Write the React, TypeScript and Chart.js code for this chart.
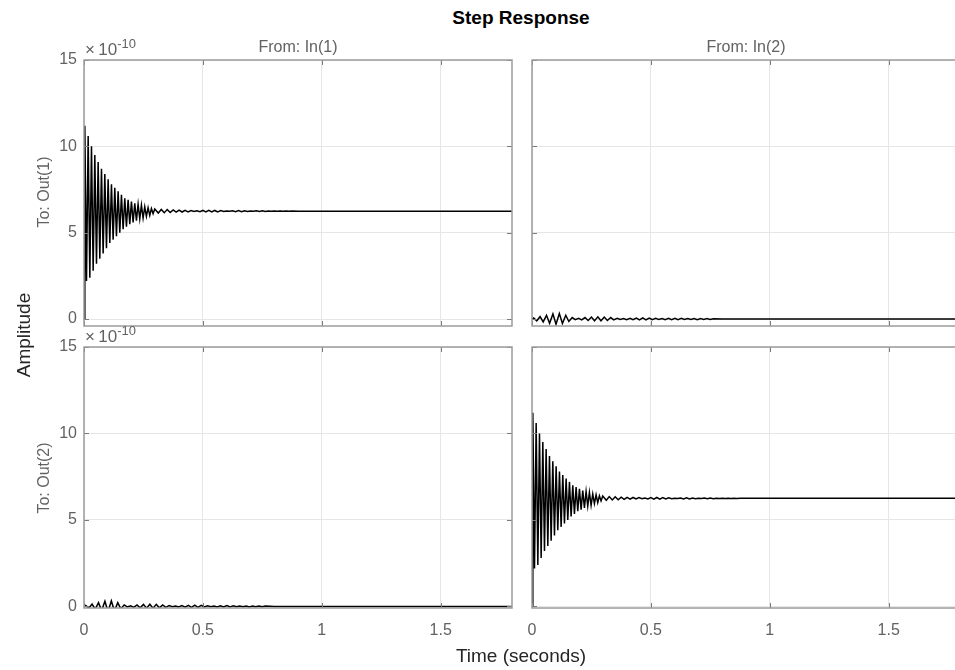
import React, { useEffect, useRef } from "react";
import { Chart, registerables } from "chart.js";
Chart.register(...registerables);

// ---- data (amplitude in units of 1e-10) ----
const diagT = [
  0, 0.0035, 0.0105, 0.0175, 0.0245, 0.0315, 0.0385, 0.0455, 0.0525, 0.0595, 0.0665,
  0.0735, 0.0805, 0.0875, 0.0945, 0.1015, 0.1085, 0.1155, 0.1225, 0.1295, 0.1365, 0.1435,
  0.1505, 0.1575, 0.1645, 0.1715, 0.1785, 0.1855, 0.1925, 0.1995, 0.2065, 0.2135, 0.2205,
  0.2275, 0.2345, 0.2415, 0.2485, 0.2555, 0.2625, 0.2695, 0.2765, 0.2835, 0.2905, 0.2975,
  0.3125, 0.325, 0.3375, 0.35, 0.3625, 0.375, 0.3875, 0.4, 0.4125, 0.425, 0.4375, 0.45,
  0.4625, 0.475, 0.4875, 0.5, 0.5125, 0.525, 0.5375, 0.55, 0.5625, 0.575, 0.5875, 0.6,
  0.6125, 0.625, 0.6375, 0.65, 0.6625, 0.675, 0.6875, 0.7, 0.7125, 0.725, 0.7375, 0.75,
  0.7625, 0.775, 0.7875, 0.8, 0.8125, 0.825, 0.8375, 0.85, 0.8625, 0.875, 0.9, 1.8,
];
const diagY = [
  0, 11.2, 2.2, 10.6, 2.4, 10.0, 2.8, 9.5, 3.2, 9.1, 3.5,
  8.7, 3.8, 8.4, 4.1, 8.1, 4.4, 7.8, 4.6, 7.6, 4.8, 7.4,
  5.0, 7.2, 5.2, 7.0, 5.35, 6.9, 5.5, 6.8, 5.6, 6.7, 5.7,
  6.65, 5.8, 6.6, 5.85, 6.5, 5.95, 6.45, 6.0, 6.4, 6.1, 6.38,
  6.14, 6.35, 6.16, 6.34, 6.17, 6.32, 6.19, 6.31, 6.2, 6.3, 6.21, 6.29,
  6.23, 6.27, 6.22, 6.29, 6.2, 6.3, 6.2, 6.29, 6.21, 6.28, 6.23, 6.26,
  6.24, 6.27, 6.22, 6.28, 6.22, 6.27, 6.23, 6.26, 6.24, 6.27, 6.23, 6.27,
  6.23, 6.26, 6.24, 6.26, 6.24, 6.26, 6.24, 6.26, 6.24, 6.26, 6.25, 6.25,
];
const crossT = [
  0, 0.007, 0.02, 0.034, 0.047, 0.061, 0.074, 0.088, 0.101, 0.115, 0.128, 0.142, 0.155,
  0.169, 0.182, 0.196, 0.209, 0.223, 0.236, 0.25, 0.263, 0.277, 0.29, 0.304, 0.317, 0.331,
  0.344, 0.358, 0.371, 0.385, 0.398, 0.412, 0.425, 0.439, 0.452, 0.466, 0.479, 0.493, 0.506,
  0.52, 0.533, 0.547, 0.56, 0.574, 0.587, 0.601, 0.614, 0.628, 0.641, 0.655, 0.668, 0.682,
  0.695, 0.709, 0.722, 0.736, 0.749, 0.763, 0.8, 1.8,
];
const crossY = [
  0, 0.06, -0.1, 0.14, -0.16, 0.22, -0.24, 0.3, -0.3, 0.32, -0.26, 0.22, -0.14,
  0.09, -0.03, 0.04, -0.05, 0.09, -0.08, 0.12, -0.1, 0.13, -0.1, 0.12, -0.08, 0.09,
  -0.05, 0.05, -0.02, 0.03, -0.03, 0.05, -0.04, 0.06, -0.05, 0.07, -0.05, 0.06, -0.03,
  0.04, -0.02, 0.03, -0.03, 0.04, -0.03, 0.05, -0.03, 0.04, -0.02, 0.03, -0.02, 0.03,
  -0.03, 0.03, -0.02, 0.03, -0.02, 0.02, 0, 0,
];
const xTicks = [0, 0.5, 1, 1.5];
const yTicks = [0, 5, 10, 15];
const xMax = 1.8;
const yMax = 15;

const FONT = "'Liberation Sans', Arial, Helvetica, sans-serif";
const TICK_COLOR = "#626262";

const boxPlugin = {
  id: "matlabBox",
  afterDraw(chart: any) {
    const { ctx, chartArea: a, scales } = chart;
    ctx.save();
    ctx.strokeStyle = "#7a7a7a";
    ctx.lineWidth = 1;
    ctx.beginPath();
    scales.x.ticks.forEach((tk: any) => {
      const px = Math.round(scales.x.getPixelForValue(tk.value)) + 0.5;
      ctx.moveTo(px, a.bottom);
      ctx.lineTo(px, a.bottom - 5);
      ctx.moveTo(px, a.top);
      ctx.lineTo(px, a.top + 5);
    });
    scales.y.ticks.forEach((tk: any) => {
      const py = Math.round(scales.y.getPixelForValue(tk.value)) + 0.5;
      ctx.moveTo(a.left, py);
      ctx.lineTo(a.left + 5, py);
      ctx.moveTo(a.right, py);
      ctx.lineTo(a.right - 5, py);
    });
    ctx.stroke();
    ctx.strokeStyle = "#9c9c9c";
    ctx.lineWidth = 1.5;
    ctx.strokeRect(a.left, a.top, a.right - a.left, a.bottom - a.top);
    ctx.restore();
  },
};

const zeroPad = (s: any) => {
  s.paddingTop = 0;
  s.paddingBottom = 0;
  s.paddingLeft = 0;
  s.paddingRight = 0;
};

type PanelProps = {
  left: number;
  top: number;
  width: number;
  height: number;
  t: number[];
  y: number[];
  yMin: number;
  yAxisW: number;
  xAxisH: number;
  showX: boolean;
  showY: boolean;
};

function Panel(p: PanelProps) {
  const ref = useRef<HTMLCanvasElement | null>(null);
  useEffect(() => {
    if (!ref.current) return;
    const chart = new Chart(ref.current, {
      type: "line",
      data: {
        datasets: [
          {
            data: p.t.map((x, i) => ({ x, y: p.y[i] })),
            borderColor: "#000000",
            borderWidth: 1.5,
            pointRadius: 0,
            tension: 0,
            fill: false,
          },
        ],
      },
      options: {
        animation: false,
        responsive: false,
        maintainAspectRatio: false,
        layout: { padding: { top: 10, right: 4, left: 0, bottom: 0 } },
        plugins: {
          legend: { display: false },
          tooltip: { enabled: false },
          title: { display: false },
        },
        scales: {
          x: {
            type: "linear",
            min: 0,
            max: xMax,
            afterBuildTicks: (s: any) => {
              s.ticks = xTicks.map((v) => ({ value: v }));
            },
            afterFit: (s: any) => {
              s.height = p.xAxisH;
              zeroPad(s);
            },
            grid: { color: "#e6e6e6", lineWidth: 1, drawTicks: false },
            border: { display: false },
            ticks: {
              display: p.showX,
              autoSkip: false,
              maxRotation: 0,
              padding: 13,
              color: TICK_COLOR,
              font: { family: FONT, size: 16 },
              callback: (v: any) => String(v),
            },
          },
          y: {
            type: "linear",
            min: p.yMin,
            max: yMax,
            afterBuildTicks: (s: any) => {
              s.ticks = yTicks.map((v) => ({ value: v }));
            },
            afterFit: (s: any) => {
              s.width = p.yAxisW;
              zeroPad(s);
            },
            grid: { color: "#e6e6e6", lineWidth: 1, drawTicks: false },
            border: { display: false },
            ticks: {
              display: p.showY,
              padding: 7,
              color: TICK_COLOR,
              font: { family: FONT, size: 16 },
              callback: (v: any) => String(v),
            },
          },
        },
      },
      plugins: [boxPlugin],
    } as any);
    return () => chart.destroy();
  }, []);
  return (
    <canvas
      ref={ref}
      width={p.width}
      height={p.height}
      style={{ position: "absolute", left: p.left, top: p.top, width: p.width, height: p.height }}
    />
  );
}

function Label(props: { cx: number; cy: number; text: string; size: number; color: string; bold?: boolean; rotate?: boolean }) {
  return (
    <div
      style={{
        position: "absolute",
        left: props.cx,
        top: props.cy,
        transform: `translate(-50%, -50%)${props.rotate ? " rotate(-90deg)" : ""}`,
        fontFamily: FONT,
        fontSize: props.size,
        fontWeight: props.bold ? "bold" : "normal",
        color: props.color,
        whiteSpace: "nowrap",
        lineHeight: 1,
      }}
    >
      {props.text}
    </div>
  );
}

function Exponent(props: { left: number; top: number }) {
  return (
    <div
      style={{
        position: "absolute",
        left: props.left,
        top: props.top,
        fontFamily: FONT,
        fontSize: 17,
        lineHeight: "17px",
        color: TICK_COLOR,
        whiteSpace: "nowrap",
      }}
    >
      ×{"\u2009"}10
      <span style={{ fontSize: 13, position: "relative", top: -7 }}>-10</span>
    </div>
  );
}

export default function App() {
  return (
    <div
      style={{
        position: "absolute",
        left: 0,
        top: 0,
        width: 955,
        height: 670,
        overflow: "hidden",
        background: "#ffffff",
      }}
    >
      <Panel left={0} top={50} width={516} height={280} t={diagT} y={diagY} yMin={-0.4} yAxisW={84} xAxisH={4} showX={false} showY={true} />
      <Panel left={522} top={50} width={442} height={280} t={crossT} y={crossY} yMin={-0.4} yAxisW={10} xAxisH={4} showX={false} showY={false} />
      <Panel left={0} top={337} width={516} height={311} t={crossT} y={crossY} yMin={-0.09} yAxisW={84} xAxisH={40} showX={true} showY={true} />
      <Panel left={522} top={337} width={442} height={311} t={diagT} y={diagY} yMin={-0.09} yAxisW={10} xAxisH={40} showX={true} showY={false} />

      <Label cx={521} cy={17} text="Step Response" size={19} color="#000000" bold />
      <Label cx={298} cy={47} text="From: In(1)" size={16} color={TICK_COLOR} />
      <Label cx={746} cy={47} text="From: In(2)" size={16} color={TICK_COLOR} />
      <Label cx={44} cy={192} text="To: Out(1)" size={16} color={TICK_COLOR} rotate />
      <Label cx={44} cy={478} text="To: Out(2)" size={16} color={TICK_COLOR} rotate />
      <Label cx={23} cy={335} text="Amplitude" size={19} color="#262626" rotate />
      <Label cx={521} cy={655} text="Time (seconds)" size={19} color="#262626" />
      <Exponent left={85} top={41} />
      <Exponent left={85} top={328} />
    </div>
  );
}
